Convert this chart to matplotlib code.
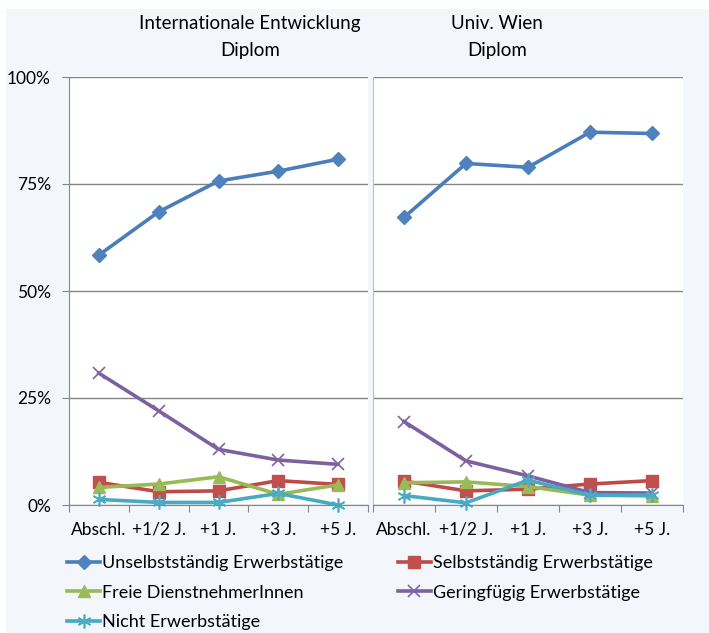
import matplotlib.pyplot as plt
from matplotlib.patches import Rectangle
from matplotlib.ticker import FuncFormatter, FixedLocator

plt.rcParams['font.family'] = ['Lato', 'DejaVu Sans']

categories = ['Abschl.', '+1/2 J.', '+1 J.', '+3 J.', '+5 J.']
series_names = ['Unselbstständig Erwerbstätige', 'Selbstständig Erwerbstätige',
                'Freie DienstnehmerInnen', 'Geringfügig Erwerbstätige',
                'Nicht Erwerbstätige']

# values in %
ie_unselbst = [58.4, 68.5, 75.7, 78.0, 80.8]
ie_selbst = [5.3, 3.1, 3.3, 5.7, 4.8]
ie_frei = [4.1, 4.9, 6.6, 2.5, 4.7]
ie_gering = [30.8, 22.0, 13.0, 10.5, 9.5]
ie_nicht = [1.3, 0.6, 0.6, 2.7, 0.0]

uw_unselbst = [67.2, 79.8, 78.9, 87.1, 86.8]
uw_selbst = [5.6, 3.3, 3.7, 4.9, 5.7]
uw_frei = [5.2, 5.4, 4.3, 2.3, 2.1]
uw_gering = [19.5, 10.3, 6.8, 2.9, 2.8]
uw_nicht = [2.2, 0.5, 5.8, 2.3, 2.3]

titles = ['Internationale Entwicklung\nDiplom', 'Univ. Wien\nDiplom']

styles = [
    dict(color='#4A7EBB', marker='D', mfc='#4F81BD', mec='#4F81BD', ms=7),
    dict(color='#BE4B48', marker='s', mfc='#C0504D', mec='#C0504D', ms=8),
    dict(color='#98B954', marker='^', mfc='#9BBB59', mec='#9BBB59', ms=9),
    dict(color='#7D60A0', marker='x', mfc='#8064A2', mec='#8064A2', ms=9, mew=1.2),
    dict(color='#46AAC5', marker=(6, 2, 0), mfc='#4BACC6', mec='#4BACC6', ms=10, mew=1.2),
]

W, H = 709, 633
fig = plt.figure(figsize=(W / 100, H / 100), dpi=100, facecolor='white')
fig.patches.append(Rectangle((6 / W, 0), 1, 1 - 9 / H, transform=fig.transFigure,
                             facecolor='#F3F7FC', edgecolor='none', zorder=-10))

ax1 = fig.add_axes([69 / W, 1 - 505 / H, 299 / W, 428 / H])
ax2 = fig.add_axes([373 / W, 1 - 505 / H, 310 / W, 428 / H])

panels = [
    (ax1, [ie_unselbst, ie_selbst, ie_frei, ie_gering, ie_nicht]),
    (ax2, [uw_unselbst, uw_selbst, uw_frei, uw_gering, uw_nicht]),
]

x = list(range(len(categories)))
handles = []
for ax, data in panels:
    ax.set_facecolor('white')
    for spine in ['top', 'right']:
        ax.spines[spine].set_visible(False)
    ax.spines['bottom'].set_color('#868686')
    ax.spines['left'].set_color('#868686')
    ax.set_xlim(-0.5, 4.5)
    ax.set_ylim(0, 100)
    ax.yaxis.set_major_locator(FixedLocator([0, 25, 50, 75, 100]))
    ax.yaxis.set_major_formatter(FuncFormatter(lambda v, p: f'{int(v)}%'))
    ax.grid(axis='y', color='#868686', linewidth=1)
    ax.set_axisbelow(True)
    ax.set_xticks([i + 0.5 for i in range(-1, 5)])
    ax.set_xticklabels([])
    ax.set_xticks(x, minor=True)
    ax.set_xticklabels(categories, minor=True, fontsize=12.5)
    ax.tick_params(axis='x', which='major', length=5, color='#868686', direction='out')
    ax.tick_params(axis='x', which='minor', length=0, pad=12)
    ax.tick_params(axis='y', length=5, color='#868686', labelsize=12.5, pad=8)
    hs = []
    for vals, st in zip(data, styles):
        h, = ax.plot(x, vals, linewidth=2.6, clip_on=False, **st)
        hs.append(h)
    handles = hs

ax2.spines['left'].set_color('#BFBFBF')
ax2.tick_params(axis='y', left=False, labelleft=False)

fig.text(250 / W, 1 - 37 / H, titles[0], ha='center', va='center', fontsize=13.5,
         linespacing=1.65)
fig.text(497 / W, 1 - 37 / H, titles[1], ha='center', va='center', fontsize=13.5,
         linespacing=1.65)

order = [0, 2, 4, 1, 3]
leg = fig.legend([handles[i] for i in order], [series_names[i] for i in order],
                 ncol=2, frameon=False, fontsize=13, loc='upper left',
                 bbox_to_anchor=(67 / W, 1 - 555 / H), handlelength=1.85,
                 handletextpad=0.1, columnspacing=3.0, labelspacing=0.76,
                 borderaxespad=0, borderpad=0)

fig.savefig('out.png', dpi=100, facecolor=fig.get_facecolor())
